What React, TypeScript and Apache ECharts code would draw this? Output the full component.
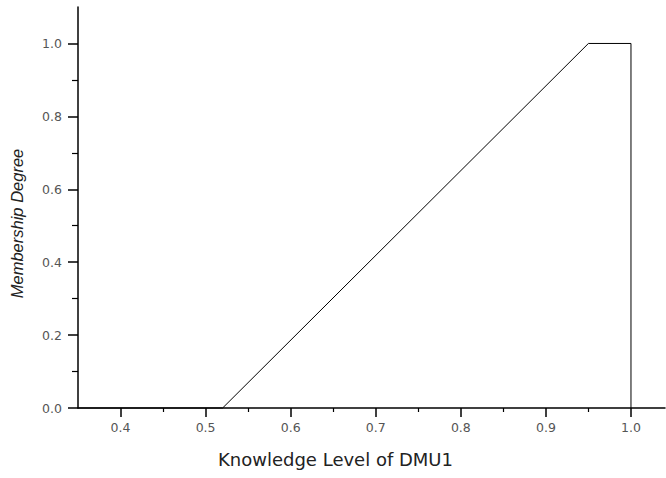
import React, { useEffect, useRef } from "react";
import * as echarts from "echarts";

const knowledgeLevel = [0.35, 0.52, 0.95, 1.0, 1.0];
const membershipDegree = [0, 0, 1, 1, 0];
const xMajorTicks = [0.4, 0.5, 0.6, 0.7, 0.8, 0.9, 1.0];
const xMinorTicks = [0.45, 0.55, 0.65, 0.75, 0.85, 0.95];
const yMajorTicks = [0, 0.2, 0.4, 0.6, 0.8, 1.0];
const yMinorTicks = [0.1, 0.3, 0.5, 0.7, 0.9];
const xTitle = "Knowledge Level of DMU1";
const yTitle = "Membership Degree";

export default function App() {
  const ref = useRef<HTMLDivElement>(null);
  useEffect(() => {
    if (!ref.current) return;
    const chart = echarts.init(ref.current, undefined, { renderer: "svg" });
    const axisLine = { show: true, lineStyle: { color: "#000", width: 1.5 } };
    const labelStyle = { color: "#555", fontSize: 12.5, fontFamily: "DejaVu Sans, sans-serif" };
    chart.setOption({
      animation: false,
      backgroundColor: "#fff",
      grid: { left: 78, right: 1, top: 7, bottom: 70, containLabel: false },
      xAxis: [
        {
          type: "value",
          min: 0.35,
          max: 1.04,
          position: "bottom",
          splitLine: { show: false },
          axisLine,
          axisTick: { show: true, length: 9, customValues: xMajorTicks, lineStyle: { color: "#000", width: 1.5 } },
          axisLabel: {
            ...labelStyle,
            margin: 13,
            customValues: xMajorTicks,
            formatter: (v: number) => v.toFixed(1),
          },
          name: xTitle,
          nameLocation: "middle",
          nameGap: 42,
          nameTextStyle: {
            color: "#222",
            fontSize: 18,
            fontFamily: "DejaVu Sans, sans-serif",
            padding: [0, 72, 0, 0],
          },
        },
        {
          type: "value",
          min: 0.35,
          max: 1.04,
          position: "bottom",
          splitLine: { show: false },
          axisLine: { show: false },
          axisTick: { show: true, length: 4, customValues: xMinorTicks, lineStyle: { color: "#000", width: 1.2 } },
          axisLabel: { show: false },
        },
      ],
      yAxis: [
        {
          type: "value",
          min: 0,
          max: 1.1,
          position: "left",
          splitLine: { show: false },
          axisLine,
          axisTick: { show: true, length: 10, customValues: yMajorTicks, lineStyle: { color: "#000", width: 1.5 } },
          axisLabel: {
            ...labelStyle,
            margin: 16,
            customValues: yMajorTicks,
            formatter: (v: number) => v.toFixed(1),
          },
          name: yTitle,
          nameLocation: "middle",
          nameGap: 53,
          nameTextStyle: {
            color: "#222",
            fontSize: 16.5,
            fontStyle: "italic",
            fontFamily: "Liberation Sans, Arial, sans-serif",
            padding: [0, 32, 0, 0],
          },
        },
        {
          type: "value",
          min: 0,
          max: 1.1,
          position: "left",
          splitLine: { show: false },
          axisLine: { show: false },
          axisTick: { show: true, length: 6, customValues: yMinorTicks, lineStyle: { color: "#000", width: 1.2 } },
          axisLabel: { show: false },
        },
      ],
      series: [
        {
          type: "line",
          data: knowledgeLevel.map((x, i) => [x, membershipDegree[i]]),
          showSymbol: false,
          symbol: "none",
          lineStyle: { color: "#000", width: 1 },
          clip: false,
        },
      ],
    });
    return () => chart.dispose();
  }, []);
  return <div ref={ref} style={{ width: 666, height: 478, position: "absolute", left: 0, top: 0 }} />;
}
